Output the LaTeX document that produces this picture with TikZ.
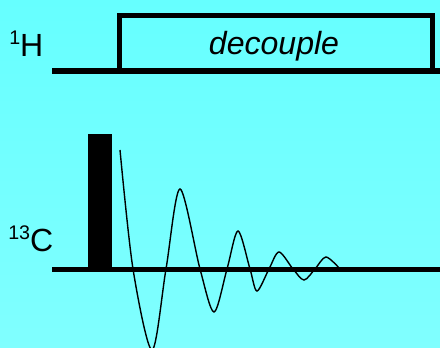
\documentclass[tikz,border=0pt]{standalone}
\usepackage{fontspec}
\setmainfont{Liberation Sans}
\definecolor{bgtop}{HTML}{66FFFF}
\definecolor{bgbottom}{HTML}{80FFFF}
\newcommand{\nuc}[2]{\raisebox{9pt}{\fontsize{14}{14}\selectfont #1}#2}
\begin{document}
\begin{tikzpicture}[x=1cm,y=1cm,
    chan/.style={line width=3.6pt},
    lbl/.style={font=\fontsize{22.8}{27}\selectfont,inner sep=0pt,anchor=base west}]
  \shade[top color=bgtop,bottom color=bgbottom] (0,0) rectangle (11,8.7);
  \useasboundingbox (0,0) rectangle (11,8.7);

  % 1H channel
  \node[lbl] (hlabel) at (0.225,7.275) {\nuc{1}{H}};
  \draw[chan] (1.3,6.925) -- (11.1,6.925);
  \draw[chan] (2.99,6.925) |- (10.81,8.3125) -- (10.81,6.925);
  \node[lbl,anchor=base,font=\fontsize{22.8}{27}\selectfont\itshape] (dec) at (6.85,7.325) {decouple};

  % 13C channel
  \node[lbl] (clabel) at (0.2,2.4) {\nuc{13}{C}};
  \draw[chan] (1.3,1.9625) -- (11.1,1.9625);
  \fill (2.2,1.9625) rectangle (2.8,5.35);

  \draw[line width=1pt,smooth] plot coordinates {
    (3.0,4.95) (3.325,1.975) (3.8,-0.05) (4.15,1.975) (4.5,3.975)
    (5.0,1.975) (5.35,0.9) (5.675,1.975) (5.95,2.925) (6.25,1.975)
    (6.425,1.425) (6.725,1.975) (6.975,2.4) (7.325,1.975) (7.6,1.7)
    (7.875,1.975) (8.15,2.275) (8.5,1.975)
  };
\end{tikzpicture}
\end{document}
